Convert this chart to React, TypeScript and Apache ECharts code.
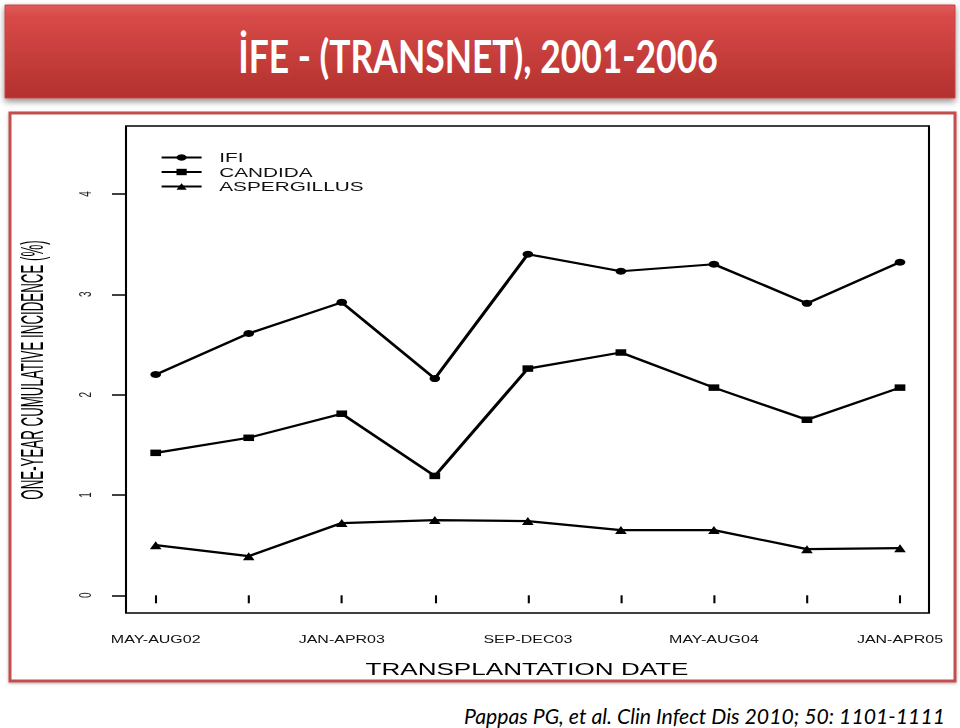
import React, { useEffect, useRef } from "react";
import * as echarts from "echarts";

// ---- data ----
const categories = [
  "MAY-AUG02", "SEP-DEC02", "JAN-APR03", "MAY-AUG03", "SEP-DEC03",
  "JAN-APR04", "MAY-AUG04", "SEP-DEC04", "JAN-APR05",
];
const ifiValues = [2.2, 2.61, 2.92, 2.16, 3.4, 3.23, 3.3, 2.91, 3.32];
const candidaValues = [1.42, 1.57, 1.81, 1.19, 2.26, 2.42, 2.07, 1.75, 2.07];
const aspergillusValues = [0.5, 0.39, 0.72, 0.75, 0.74, 0.65, 0.65, 0.46, 0.47];
const seriesNames = ["IFI", "CANDIDA", "ASPERGILLUS"];
const yMin = 0;
const yMax = 4;
const yStep = 1;

const titleText = "İFE - (TRANSNET), 2001-2006";
const citationText = "Pappas PG, et al. Clin Infect Dis 2010; 50: 1101-1111";
const xTitle = "TRANSPLANTATION DATE";
const yTitle = "ONE-YEAR CUMULATIVE INCIDENCE (%)";

// horizontal stretch of the embedded plot picture
const S = 1.6;
const PW = 960 / S;
const px = (v: number) => v / S;

const SANS = "'Liberation Sans', Arial, Helvetica, sans-serif";

export default function App() {
  const baseRef = useRef<HTMLDivElement>(null);
  const plotRef = useRef<HTMLDivElement>(null);

  useEffect(() => {
    const base = echarts.init(baseRef.current!, undefined, { renderer: "svg" });
    base.setOption({
      animation: false,
      backgroundColor: "#ffffff",
      graphic: [
        {
          type: "rect",
          shape: { x: 5, y: 5, width: 950, height: 93 },
          style: {
            fill: {
              type: "linear", x: 0, y: 0, x2: 0, y2: 1,
              colorStops: [
                { offset: 0, color: "#e05c5a" },
                { offset: 0.12, color: "#d84a48" },
                { offset: 1, color: "#b3302e" },
              ],
            },
            stroke: "#c84240",
            lineWidth: 1,
            shadowBlur: 6,
            shadowOffsetY: 3,
            shadowColor: "rgba(0,0,0,0.45)",
          },
        },
        {
          type: "text",
          x: 478,
          y: 55,
          scaleX: 0.77,
          style: {
            text: titleText,
            fill: "#ffffff",
            font: "bold 46px Lato, 'Open Sans', sans-serif",
            textAlign: "center",
            textVerticalAlign: "middle",
          },
        },
        {
          type: "rect",
          shape: { x: 10, y: 113, width: 945, height: 568 },
          style: {
            fill: "#ffffff",
            stroke: "#c0504d",
            lineWidth: 3,
            shadowBlur: 3,
            shadowOffsetY: 1,
            shadowColor: "rgba(0,0,0,0.3)",
          },
        },
        {
          type: "text",
          x: 945,
          y: 716,
          scaleX: 0.965,
          style: {
            text: citationText,
            fill: "#000000",
            font: "italic 22px Lato, 'Open Sans', sans-serif",
            textAlign: "right",
            textVerticalAlign: "middle",
          },
        },
      ],
    });

    const plot = echarts.init(plotRef.current!, undefined, { renderer: "svg" });
    const lineStyle = { color: "#000", width: 2.2 };
    plot.setOption({
      animation: false,
      grid: { left: px(155.7), right: PW - px(900), top: 194, bottom: 728 - 595.3 },
      legend: {
        data: seriesNames,
        orient: "vertical",
        left: px(160),
        top: 151,
        padding: 0,
        itemWidth: px(40),
        itemHeight: 8,
        itemGap: 1.5,
        textStyle: { fontFamily: SANS, fontSize: 13, color: "#111", padding: [0, 0, 0, 6] },
      },
      xAxis: {
        type: "category",
        data: categories,
        boundaryGap: false,
        offset: 613 - 595.3,
        axisLine: { show: false },
        axisTick: { show: true, interval: 0, length: 8, lineStyle: { color: "#000", width: 1.3 } },
        axisLabel: { interval: 1, fontFamily: SANS, fontSize: 10, color: "#111", margin: 22 },
        splitLine: { show: false },
      },
      yAxis: {
        type: "value",
        min: yMin,
        max: yMax,
        interval: yStep,
        offset: px(155.7) - px(126),
        axisLine: { show: false },
        axisTick: { show: true, length: px(14), lineStyle: { color: "#000", width: 1.5 } },
        axisLabel: { rotate: 90, fontFamily: SANS, fontSize: 10, color: "#222", margin: 20 },
        splitLine: { show: false },
      },
      series: [
        {
          name: seriesNames[0], type: "line", data: ifiValues,
          symbol: "circle", symbolSize: [6.6, 7],
          lineStyle, itemStyle: { color: "#000" },
        },
        {
          name: seriesNames[1], type: "line", data: candidaValues,
          symbol: "rect", symbolSize: [6.7, 6.5],
          lineStyle, itemStyle: { color: "#000" },
        },
        {
          name: seriesNames[2], type: "line", data: aspergillusValues,
          symbol: "triangle", symbolSize: [7.3, 8],
          lineStyle, itemStyle: { color: "#000" },
        },
      ],
      graphic: [
        {
          type: "rect",
          silent: true,
          shape: { x: px(126), y: 126, width: px(929) - px(126), height: 613 - 126 },
          style: { fill: "none", stroke: "#000", lineWidth: 1.3 },
        },
        {
          type: "text",
          x: px(527),
          y: 669,
          style: {
            text: xTitle,
            fill: "#000",
            font: `16.3px ${SANS}`,
            textAlign: "center",
            textVerticalAlign: "middle",
          },
        },
        {
          type: "text",
          x: px(31.5),
          y: 370,
          rotation: Math.PI / 2,
          scaleX: 0.666,
          style: {
            text: yTitle,
            fill: "#000",
            font: `20px ${SANS}`,
            textAlign: "center",
            textVerticalAlign: "middle",
          },
        },
      ],
    });

    return () => {
      base.dispose();
      plot.dispose();
    };
  }, []);

  return (
    <>
      <div
        ref={baseRef}
        style={{ position: "absolute", left: 0, top: 0, width: 960, height: 728 }}
      />
      <div
        ref={plotRef}
        style={{
          position: "absolute",
          left: 0,
          top: 0,
          width: PW,
          height: 728,
          transform: `scaleX(${S})`,
          transformOrigin: "0 0",
        }}
      />
    </>
  );
}
